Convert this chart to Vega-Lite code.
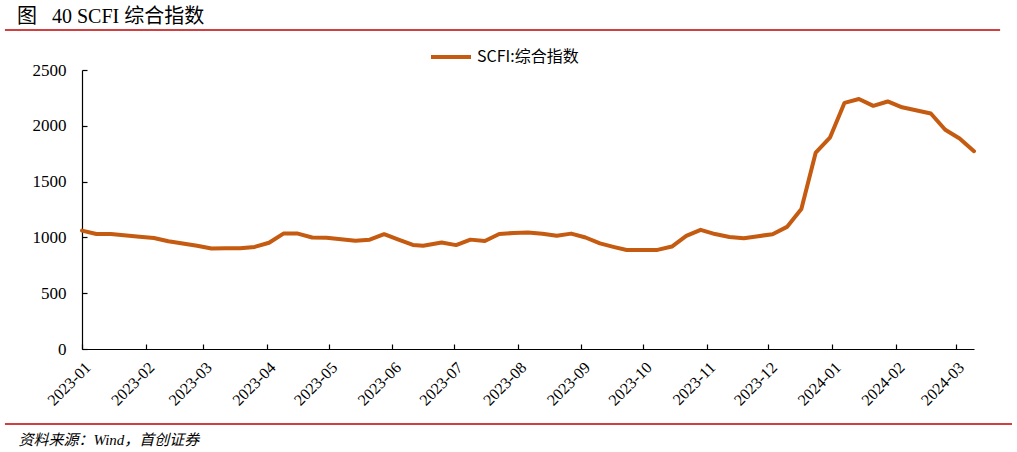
{
  "$schema": "https://vega.github.io/schema/vega-lite/v6.json",
  "width": 892,
  "height": 279,
  "autosize": {"type": "none"},
  "padding": {"left": 82, "top": 70, "right": 43, "bottom": 103},
  "background": "white",
  "config": {"view": {"stroke": null}, "font": "Liberation Serif"},
  "title": {"text": "图\u00a0\u00a0 40 SCFI 综合指数", "anchor": "start", "frame": "group", "dx": -65, "offset": 2, "font": "Liberation Serif, Noto Sans CJK SC", "fontSize": 20, "fontWeight": "normal", "color": "#000000"},
  "datasets": {
    "scfi": [
      {"date": "2023-01-06", "value": 1061, "series": "SCFI:综合指数"},
      {"date": "2023-01-13", "value": 1030, "series": "SCFI:综合指数"},
      {"date": "2023-01-20", "value": 1030, "series": "SCFI:综合指数"},
      {"date": "2023-02-03", "value": 1006, "series": "SCFI:综合指数"},
      {"date": "2023-02-10", "value": 995, "series": "SCFI:综合指数"},
      {"date": "2023-02-17", "value": 966, "series": "SCFI:综合指数"},
      {"date": "2023-02-24", "value": 946, "series": "SCFI:综合指数"},
      {"date": "2023-03-03", "value": 925, "series": "SCFI:综合指数"},
      {"date": "2023-03-10", "value": 900, "series": "SCFI:综合指数"},
      {"date": "2023-03-17", "value": 903, "series": "SCFI:综合指数"},
      {"date": "2023-03-24", "value": 902, "series": "SCFI:综合指数"},
      {"date": "2023-03-31", "value": 915, "series": "SCFI:综合指数"},
      {"date": "2023-04-07", "value": 952, "series": "SCFI:综合指数"},
      {"date": "2023-04-14", "value": 1034, "series": "SCFI:综合指数"},
      {"date": "2023-04-21", "value": 1034, "series": "SCFI:综合指数"},
      {"date": "2023-04-28", "value": 999, "series": "SCFI:综合指数"},
      {"date": "2023-05-05", "value": 996, "series": "SCFI:综合指数"},
      {"date": "2023-05-12", "value": 984, "series": "SCFI:综合指数"},
      {"date": "2023-05-19", "value": 971, "series": "SCFI:综合指数"},
      {"date": "2023-05-26", "value": 980, "series": "SCFI:综合指数"},
      {"date": "2023-06-02", "value": 1029, "series": "SCFI:综合指数"},
      {"date": "2023-06-09", "value": 980, "series": "SCFI:综合指数"},
      {"date": "2023-06-16", "value": 932, "series": "SCFI:综合指数"},
      {"date": "2023-06-21", "value": 925, "series": "SCFI:综合指数"},
      {"date": "2023-06-30", "value": 954, "series": "SCFI:综合指数"},
      {"date": "2023-07-07", "value": 931, "series": "SCFI:综合指数"},
      {"date": "2023-07-14", "value": 980, "series": "SCFI:综合指数"},
      {"date": "2023-07-21", "value": 968, "series": "SCFI:综合指数"},
      {"date": "2023-07-28", "value": 1030, "series": "SCFI:综合指数"},
      {"date": "2023-08-04", "value": 1040, "series": "SCFI:综合指数"},
      {"date": "2023-08-11", "value": 1044, "series": "SCFI:综合指数"},
      {"date": "2023-08-18", "value": 1033, "series": "SCFI:综合指数"},
      {"date": "2023-08-25", "value": 1014, "series": "SCFI:综合指数"},
      {"date": "2023-09-01", "value": 1034, "series": "SCFI:综合指数"},
      {"date": "2023-09-08", "value": 999, "series": "SCFI:综合指数"},
      {"date": "2023-09-15", "value": 946, "series": "SCFI:综合指数"},
      {"date": "2023-09-22", "value": 913, "series": "SCFI:综合指数"},
      {"date": "2023-09-28", "value": 887, "series": "SCFI:综合指数"},
      {"date": "2023-10-13", "value": 888, "series": "SCFI:综合指数"},
      {"date": "2023-10-20", "value": 918, "series": "SCFI:综合指数"},
      {"date": "2023-10-27", "value": 1013, "series": "SCFI:综合指数"},
      {"date": "2023-11-03", "value": 1068, "series": "SCFI:综合指数"},
      {"date": "2023-11-10", "value": 1030, "series": "SCFI:综合指数"},
      {"date": "2023-11-17", "value": 1004, "series": "SCFI:综合指数"},
      {"date": "2023-11-24", "value": 993, "series": "SCFI:综合指数"},
      {"date": "2023-12-01", "value": 1011, "series": "SCFI:综合指数"},
      {"date": "2023-12-08", "value": 1029, "series": "SCFI:综合指数"},
      {"date": "2023-12-15", "value": 1094, "series": "SCFI:综合指数"},
      {"date": "2023-12-22", "value": 1255, "series": "SCFI:综合指数"},
      {"date": "2023-12-29", "value": 1760, "series": "SCFI:综合指数"},
      {"date": "2024-01-05", "value": 1897, "series": "SCFI:综合指数"},
      {"date": "2024-01-12", "value": 2206, "series": "SCFI:综合指数"},
      {"date": "2024-01-19", "value": 2240, "series": "SCFI:综合指数"},
      {"date": "2024-01-26", "value": 2179, "series": "SCFI:综合指数"},
      {"date": "2024-02-02", "value": 2218, "series": "SCFI:综合指数"},
      {"date": "2024-02-09", "value": 2166, "series": "SCFI:综合指数"},
      {"date": "2024-02-23", "value": 2110, "series": "SCFI:综合指数"},
      {"date": "2024-03-01", "value": 1965, "series": "SCFI:综合指数"},
      {"date": "2024-03-08", "value": 1886, "series": "SCFI:综合指数"},
      {"date": "2024-03-15", "value": 1773, "series": "SCFI:综合指数"}
    ]
  },
  "layer": [
    {
      "data": {"name": "scfi", "format": {"parse": {"date": "date:'%Y-%m-%d'"}}},
      "mark": {"type": "line", "strokeWidth": 4, "strokeJoin": "round", "strokeCap": "round"},
      "encoding": {
        "x": {
          "field": "date", "type": "temporal", "title": "资料来源：Wind，首创证券",
          "scale": {"domain": [{"year": 2023, "month": 1, "date": 6}, {"year": 2024, "month": 3, "date": 15}], "nice": false},
          "axis": {
            "values": [
              {"year": 2023, "month": 1, "date": 6}, {"year": 2023, "month": 2, "date": 6}, {"year": 2023, "month": 3, "date": 6},
              {"year": 2023, "month": 4, "date": 6}, {"year": 2023, "month": 5, "date": 6}, {"year": 2023, "month": 6, "date": 6},
              {"year": 2023, "month": 7, "date": 6}, {"year": 2023, "month": 8, "date": 6}, {"year": 2023, "month": 9, "date": 6},
              {"year": 2023, "month": 10, "date": 6}, {"year": 2023, "month": 11, "date": 6}, {"year": 2023, "month": 12, "date": 6},
              {"year": 2024, "month": 1, "date": 6}, {"year": 2024, "month": 2, "date": 6}, {"year": 2024, "month": 3, "date": 6}
            ],
            "format": "%Y-%m", "labelAngle": -45, "labelFont": "Liberation Serif", "labelFontSize": 16, "labelColor": "#000000",
            "labelPadding": 15, "labelOverlap": false, "labelFlush": false,
            "domainColor": "#000000", "domainWidth": 1.2, "tickColor": "#000000", "tickSize": -5, "tickWidth": 1.2, "grid": false,
            "titleX": -64, "titleY": 95, "titleAlign": "left", "titleAngle": 0, "titleBaseline": "alphabetic", "titleAnchor": null,
            "titleFont": "Liberation Serif, Noto Sans CJK SC", "titleFontStyle": "italic", "titleFontWeight": "normal", "titleFontSize": 15, "titleColor": "#000000"
          }
        },
        "y": {
          "field": "value", "type": "quantitative", "title": null,
          "scale": {"domain": [0, 2500], "nice": false, "zero": false},
          "axis": {
            "values": [0, 500, 1000, 1500, 2000, 2500], "format": "d",
            "labelFont": "Liberation Serif", "labelFontSize": 17, "labelColor": "#000000", "labelPadding": 21,
            "domainColor": "#000000", "domainWidth": 1.2, "tickColor": "#000000", "tickSize": -5, "tickWidth": 1.2, "grid": false
          }
        },
        "color": {
          "field": "series", "type": "nominal",
          "scale": {"range": ["#C55A11"]},
          "legend": {
            "orient": "none", "legendX": 347, "legendY": -35, "title": null, "padding": 0,
            "symbolType": "stroke", "symbolSize": 1600, "symbolStrokeWidth": 4, "labelOffset": 4,
            "labelFont": "Noto Sans CJK SC", "labelFontSize": 16, "labelColor": "#000000", "labelLimit": 400
          }
        }
      }
    },
    {
      "data": {"values": [{}]},
      "mark": {"type": "rule", "color": "#C00000", "strokeWidth": 1.5},
      "encoding": {
        "x": {"datum": {"year": 2022, "month": 11, "date": 29, "hours": 12}, "type": "temporal", "title": "资料来源：Wind，首创证券",
              "scale": {"domain": [{"year": 2023, "month": 1, "date": 6}, {"year": 2024, "month": 3, "date": 15}], "nice": false}},
        "x2": {"datum": {"year": 2024, "month": 3, "date": 27, "hours": 17}},
        "y": {"datum": 2858, "type": "quantitative", "title": null, "scale": {"domain": [0, 2500], "nice": false, "zero": false}}
      }
    },
    {
      "data": {"values": [{}]},
      "mark": {"type": "rule", "color": "#C00000", "strokeWidth": 1.5},
      "encoding": {
        "x": {"datum": {"year": 2022, "month": 11, "date": 29, "hours": 12}, "type": "temporal", "title": "资料来源：Wind，首创证券",
              "scale": {"domain": [{"year": 2023, "month": 1, "date": 6}, {"year": 2024, "month": 3, "date": 15}], "nice": false}},
        "x2": {"datum": {"year": 2024, "month": 4, "date": 2, "hours": 12}},
        "y": {"datum": -672, "type": "quantitative", "title": null, "scale": {"domain": [0, 2500], "nice": false, "zero": false}}
      }
    }
  ]
}
